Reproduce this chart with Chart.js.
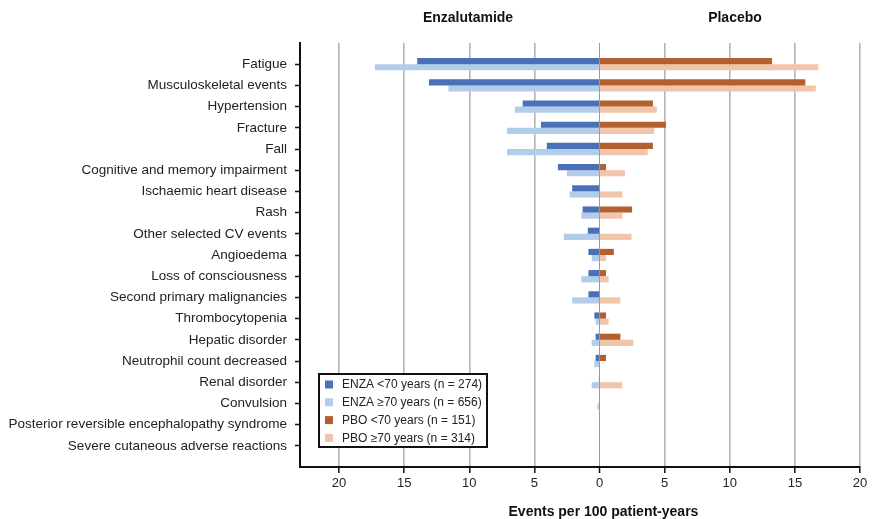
<!DOCTYPE html>
<html>
<head>
<meta charset="utf-8">
<script src="https://cdn.jsdelivr.net/npm/chart.js@4"></script>
<style>
  body { margin: 0; background: #fff; }
  canvas { display: block; }
</style>
</head>
<body>
<canvas id="aeChart" width="874" height="519"></canvas>
<script>
// categorias (de arriba a abajo)
const categories = [
  'Fatigue', 'Musculoskeletal events', 'Hypertension', 'Fracture', 'Fall',
  'Cognitive and memory impairment', 'Ischaemic heart disease', 'Rash',
  'Other selected CV events', 'Angioedema', 'Loss of consciousness',
  'Second primary malignancies', 'Thrombocytopenia', 'Hepatic disorder',
  'Neutrophil count decreased', 'Renal disorder', 'Convulsion',
  'Posterior reversible encephalopathy syndrome', 'Severe cutaneous adverse reactions'
];

// eventos por 100 pacientes-año
const enzaUnder70 = [14.0, 13.1, 5.9, 4.5, 4.05, 3.2, 2.1, 1.3, 0.9, 0.85, 0.85, 0.85, 0.4, 0.3, 0.3, 0.05, 0, 0, 0];
const enzaOver70  = [17.25, 11.6, 6.5, 7.1, 7.1, 2.5, 2.3, 1.4, 2.75, 0.6, 1.4, 2.1, 0.3, 0.6, 0.4, 0.6, 0.15, 0, 0];
const pboUnder70  = [13.25, 15.8, 4.1, 5.1, 4.1, 0.5, 0, 2.5, 0, 1.1, 0.5, 0, 0.5, 1.6, 0.5, 0, 0, 0, 0];
const pboOver70   = [16.8, 16.6, 4.4, 4.2, 3.7, 1.95, 1.75, 1.75, 2.45, 0.5, 0.7, 1.6, 0.7, 2.6, 0, 1.75, 0, 0, 0];

const seriesLabels = [
  'ENZA <70 years (n = 274)', 'ENZA \u226570 years (n = 656)',
  'PBO <70 years (n = 151)', 'PBO \u226570 years (n = 314)'
];
const panelTitles = ['Enzalutamide', 'Placebo'];
const xTitle = 'Events per 100 patient-years';
const xTicks = [-20, -15, -10, -5, 0, 5, 10, 15, 20];

const colors = ['#4a70b8', '#b2cde9', '#b35f2f', '#f2c5aa'];
const FONT = "'Liberation Sans', Arial, sans-serif";

// huecos arriba y abajo para dejar aire en el eje
const labels = [''].concat(categories, ['']);
const pad = arr => [null].concat(arr, [null]);

const datasets = [
  { label: seriesLabels[0], data: pad(enzaUnder70.map(v => -v)), backgroundColor: colors[0], stack: 'young' },
  { label: seriesLabels[1], data: pad(enzaOver70.map(v => -v)), backgroundColor: colors[1], stack: 'old' },
  { label: seriesLabels[2], data: pad(pboUnder70), backgroundColor: colors[2], stack: 'young' },
  { label: seriesLabels[3], data: pad(pboOver70), backgroundColor: colors[3], stack: 'old' }
];
datasets.forEach(d => { d.categoryPercentage = 0.58; d.barPercentage = 1.0; });

// titulos, titulo del eje x y leyenda dentro del area
const decor = {
  id: 'decor',
  afterDraw(chart) {
    const ctx = chart.ctx;
    const x = chart.scales.x;
    ctx.save();
    ctx.fillStyle = '#111';
    ctx.textAlign = 'center';
    ctx.textBaseline = 'middle';
    ctx.font = 'bold 14px ' + FONT;
    ctx.fillText(panelTitles[0], x.getPixelForValue(-10.1), 18);
    ctx.fillText(panelTitles[1], x.getPixelForValue(10.4), 18);
    ctx.fillText(xTitle, x.getPixelForValue(0.3), 512);

    // leyenda
    const bx = 319, by = 374, bw = 168, bh = 73;
    ctx.fillStyle = '#fff';
    ctx.fillRect(bx, by, bw, bh);
    ctx.strokeStyle = '#111';
    ctx.lineWidth = 2;
    ctx.strokeRect(bx, by, bw, bh);
    ctx.textAlign = 'left';
    ctx.font = '12px ' + FONT;
    chart.data.datasets.forEach((d, i) => {
      const cy = by + 10.5 + i * 17.8;
      ctx.fillStyle = d.backgroundColor;
      ctx.fillRect(bx + 6, cy - 4, 8, 8);
      ctx.fillStyle = '#222';
      ctx.fillText(d.label, bx + 23, cy + 0.5);
    });
    ctx.restore();
  }
};

new Chart(document.getElementById('aeChart'), {
  type: 'bar',
  data: { labels: labels, datasets: datasets },
  plugins: [decor],
  options: {
    indexAxis: 'y',
    responsive: false,
    animation: false,
    layout: { padding: { top: 43, right: 14, left: 0, bottom: 0 } },
    plugins: { legend: { display: false }, tooltip: { enabled: false } },
    scales: {
      x: {
        stacked: true,
        min: -23,
        max: 20,
        afterFit: s => { s.height = 52; },
        afterBuildTicks: s => { s.ticks = xTicks.map(v => ({ value: v })); },
        ticks: {
          includeBounds: false,
          padding: 3,
          color: '#222',
          font: { family: FONT, size: 13 },
          callback: v => Math.abs(v)
        },
        grid: {
          color: c => c.tick && c.tick.value === 0 ? '#9a9a9a' : '#b4b4b4',
          lineWidth: c => c.tick && c.tick.value === 0 ? 1 : 1.6,
          tickColor: '#111',
          tickWidth: 1.5,
          tickLength: 6
        },
        border: { color: '#111', width: 2 }
      },
      y: {
        stacked: true,
        offset: false,
        afterFit: s => { s.width = 300; },
        ticks: {
          padding: 8,
          color: '#222',
          autoSkip: false,
          font: { family: FONT, size: 13.5 }
        },
        grid: {
          offset: false,
          drawOnChartArea: false,
          tickLength: 5,
          tickWidth: 1.5,
          tickColor: c => (c.index === 0 || c.index === labels.length - 1) ? 'rgba(0,0,0,0)' : '#111'
        },
        border: { color: '#111', width: 2 }
      }
    }
  }
});
</script>
</body>
</html>
